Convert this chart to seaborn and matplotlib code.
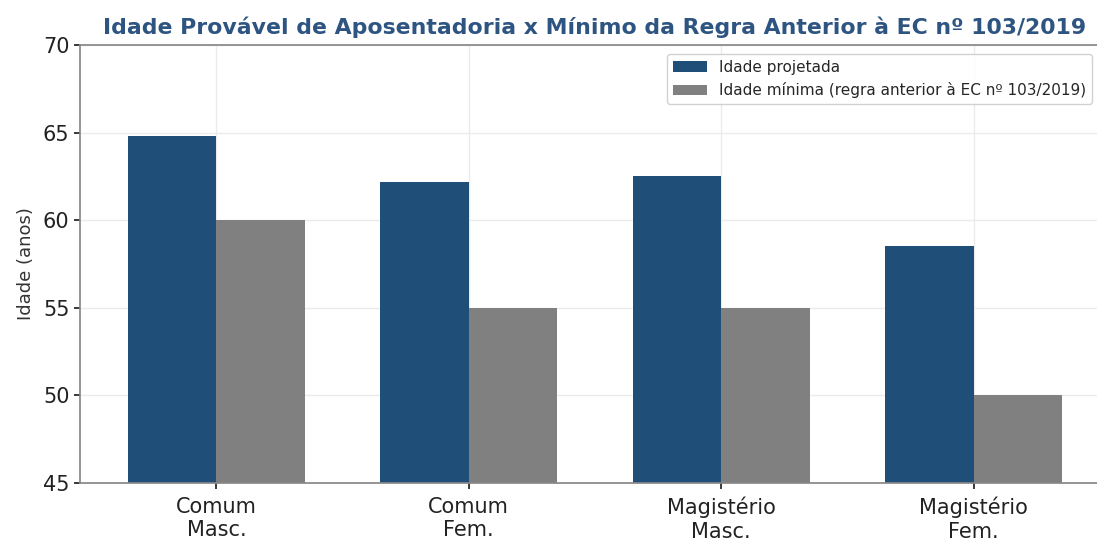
import pandas as pd
import matplotlib
matplotlib.use("Agg")
import matplotlib.pyplot as plt
import seaborn as sns

# Dados
categorias = ["Comum\nMasc.", "Comum\nFem.", "Magistério\nMasc.", "Magistério\nFem."]
idade_projetada = [64.8, 62.2, 62.5, 58.5]
idade_minima = [60, 55, 55, 50]
series = ["Idade projetada", "Idade mínima (regra anterior à EC nº 103/2019)"]

df = pd.DataFrame({
    "Categoria": categorias * 2,
    "Idade": idade_projetada + idade_minima,
    "Série": [series[0]] * 4 + [series[1]] * 4,
})

sns.set_theme(style="whitegrid", rc={
    "axes.edgecolor": "#888888",
    "grid.color": "#ebebeb",
    "xtick.bottom": True,
    "ytick.left": True,
    "xtick.major.size": 4,
    "ytick.major.size": 4,
    "xtick.color": "#222222",
    "ytick.color": "#222222",
})
plt.rcParams["font.family"] = ["DejaVu Sans"]

fig = plt.figure(figsize=(10.97, 5.42), dpi=100)
ax = fig.add_axes([80 / 1097, 1 - 483 / 542, 1030 / 1097, 438 / 542])

sns.barplot(
    data=df, x="Categoria", y="Idade", hue="Série",
    palette=["#1f4e79", "#808080"], width=0.7, saturation=1,
    linewidth=0, ax=ax,
)

ax.set_xlim(-0.54, 3.54)
ax.set_ylim(45, 70)
ax.set_yticks([45, 50, 55, 60, 65, 70])
ax.grid(True, axis="x", color="#ebebeb")
ax.set_axisbelow(True)
ax.set_xlabel("")
ax.set_ylabel("Idade (anos)", fontsize=13, color="#333333", labelpad=6)
ax.tick_params(axis="x", labelsize=15, pad=6)
ax.tick_params(axis="y", labelsize=15)
ax.set_title("Idade Provável de Aposentadoria x Mínimo da Regra Anterior à EC nº 103/2019",
             fontsize=15.8, fontweight="bold", color="#2e5582", pad=8)
ax.legend(loc="upper right", fontsize=11, frameon=True, bbox_to_anchor=(0.99, 0.998),
          framealpha=0.9, title=None, handlelength=2.2)

fig.savefig("out.png", dpi=100)
